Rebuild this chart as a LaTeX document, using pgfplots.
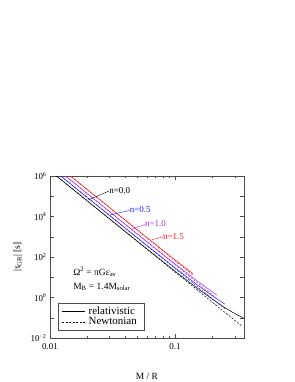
\documentclass[border=0pt]{standalone}
\usepackage{pgfplots}
\pgfplotsset{compat=1.18}
\usepackage{fontspec}
\setmainfont{Liberation Serif}
\definecolor{cblue}{RGB}{30,30,255}
\definecolor{cpurple}{RGB}{170,40,240}
\definecolor{cred}{RGB}{255,20,20}
\begin{document}
\begin{tikzpicture}
\useasboundingbox (-50bp,-44bp) rectangle (245bp,338bp);
\begin{axis}[
  scale only axis, width=194bp, height=162bp,
  xmode=log, ymode=log,
  xmin=0.01, xmax=0.356, ymin=1e-2, ymax=1e6,
  xtick={0.01,0.1}, xticklabels={0.01,0.1},
  minor xtick={0.02,0.03,0.04,0.05,0.06,0.07,0.08,0.09,0.2,0.3},
  ytick={1e-2,1e0,1e2,1e4,1e6},
  yticklabels={10\textsuperscript{−2},10\textsuperscript{0},10\textsuperscript{2},10\textsuperscript{4},10\textsuperscript{6}},
  extra y ticks={1e-1,1e1,1e3,1e5}, extra y tick labels={},
  tick align=inside, major tick length=4bp, minor tick length=2.5bp,
  tick style={black!70, line width=0.4pt},
  axis line style={black!70, line width=0.5pt},
  ticklabel style={font=\fontsize{9}{10}\selectfont},
  xticklabel style={yshift=-2bp},
  xlabel={M / R}, ylabel={|τ\textsubscript{GR}| [s]},
  label style={font=\fontsize{9.5}{11}\selectfont},
  xlabel style={at={(axis description cs:0.5,-0.235)}, anchor=center},
  ylabel style={at={(axis description cs:-0.165,0.5)}, anchor=center},
  legend style={at={(0.041,0.049)}, anchor=south west, draw=black!70, line width=0.4pt,
    font=\fontsize{11}{11}\selectfont, inner xsep=4bp, inner ysep=1.5bp, row sep=-2pt,
    nodes={inner xsep=3bp}},
  legend cell align=left,
  legend image post style={line width=0.5pt},
  legend image code/.code={\draw[#1] (0bp,0bp) -- (23bp,0bp);},
  clip=true,
]
% black n=0.0
\addplot[black, line width=0.5pt] coordinates {(0.01,1.821e6) (0.02,5.708e4) (0.05,594.8) (0.1,19.82) (0.15,2.899) (0.2,0.7998) (0.25,0.3170) (0.3,0.1611) (0.356,0.0938)};
\addlegendentry{relativistic}
\addplot[black, line width=0.5pt, dash pattern=on 2pt off 1.5pt] coordinates {(0.01,1.820e6) (0.343,0.0383)};
\addlegendentry{Newtonian}
% blue n=0.5
\addplot[cblue, line width=0.5pt] coordinates {(0.01,2.694e6) (0.02,8.443e4) (0.05,879.6) (0.1,29.31) (0.15,4.289) (0.2,1.183) (0.25,0.4688)};
\addplot[cblue, line width=0.5pt, dash pattern=on 2pt off 1.5pt] coordinates {(0.01,2.692e6) (0.25,0.2754)};
% purple n=1.0
\addplot[cpurple, line width=0.5pt] coordinates {(0.01,4.173e6) (0.02,1.308e5) (0.05,1362) (0.1,45.39) (0.15,6.642) (0.2,1.832) (0.217,1.294)};
\addplot[cpurple, line width=0.5pt, dash pattern=on 2pt off 1.5pt] coordinates {(0.01,4.169e6) (0.217,0.867)};
% red n=1.5
\addplot[cred, line width=0.5pt] coordinates {(0.01,6.613e6) (0.02,2.073e5) (0.05,2160) (0.1,71.94) (0.139,15.01)};
\addplot[cred, line width=0.5pt, dash pattern=on 2pt off 1.5pt] coordinates {(0.01,6.607e6) (0.139,12.74)};
% labels
\draw[black, line width=0.4pt] (axis cs:0.0202,6.53e4) -- (axis cs:0.0297,1.82e5);
\node[anchor=west, inner sep=0pt, font=\fontsize{9}{10}\selectfont, text=black] at (axis cs:0.0297,1.9e5) {n=0.0};
\draw[cblue, line width=0.4pt] (axis cs:0.0302,1.19e4) -- (axis cs:0.0433,2.0e4);
\node[anchor=west, inner sep=0pt, font=\fontsize{9}{10}\selectfont, text=cblue] at (axis cs:0.0433,2.1e4) {n=0.5};
\draw[cpurple, line width=0.4pt] (axis cs:0.0451,2.4e3) -- (axis cs:0.0575,4.0e3);
\node[anchor=west, inner sep=0pt, font=\fontsize{9}{10}\selectfont, text=cpurple] at (axis cs:0.0575,4.3e3) {n=1.0};
\draw[cred, line width=0.4pt] (axis cs:0.0651,700) -- (axis cs:0.0799,990);
\node[anchor=west, inner sep=0pt, font=\fontsize{9}{10}\selectfont, text=cred] at (axis cs:0.0799,1.05e3) {n=1.5};
\node[anchor=west, inner sep=0pt, font=\fontsize{9.5}{11}\selectfont] at (rel axis cs:0.119,0.407) {Ω\textsuperscript{2} = πGε\textsubscript{av}};
\node[anchor=west, inner sep=0pt, font=\fontsize{9.5}{11}\selectfont] at (rel axis cs:0.119,0.315) {M\textsubscript{B} = 1.4M\textsubscript{solar}};
\end{axis}
\end{tikzpicture}
\end{document}
